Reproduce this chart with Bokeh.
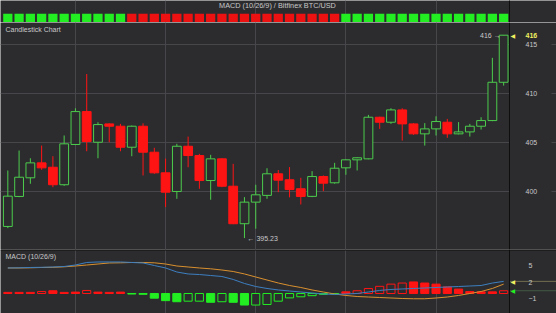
import math
from bokeh.plotting import figure
from bokeh.models import Range1d, FixedTicker, Grid, LinearAxis, Label, ColumnDataSource, Span
from bokeh.layouts import column
from bokeh.embed import file_html
from bokeh.resources import INLINE

# ---------------- data ----------------
opens = [396.42, 399.49, 401.40, 402.93, 402.48, 400.69, 404.81, 408.18, 405.04, 406.92,
         406.68, 404.53, 406.68, 404.02, 401.91, 400.00, 404.63, 403.68, 401.12, 403.34,
         400.54, 396.70, 398.91, 399.60, 401.81, 401.20, 400.28, 399.50, 401.53, 400.89,
         402.42, 403.24, 403.34, 407.60, 407.09, 408.35, 406.92, 405.90, 406.41, 407.09,
         405.90, 406.10, 406.68, 407.26, 411.18]
highs = [402.15, 404.19, 403.40, 404.70, 403.61, 405.73, 408.52, 412.03, 407.09, 406.98,
         406.92, 406.75, 406.98, 404.47, 403.37, 404.88, 405.62, 403.85, 403.75, 403.40,
         402.83, 399.42, 400.69, 402.38, 402.20, 402.50, 401.40, 402.08, 401.64, 402.93,
         403.30, 403.50, 407.84, 407.65, 408.52, 408.52, 407.00, 407.00, 407.70, 407.43,
         407.10, 406.92, 407.60, 413.68, 416.00]
lows = [396.25, 399.42, 400.79, 402.22, 400.44, 400.58, 404.75, 404.12, 403.40, 405.04,
        404.12, 403.61, 401.64, 401.81, 398.40, 399.25, 402.48, 400.28, 399.15, 400.44,
        396.65, 395.23, 396.19, 399.25, 399.93, 399.40, 398.67, 399.42, 400.03, 400.80,
        401.71, 402.15, 403.30, 406.41, 406.92, 405.21, 405.80, 404.70, 405.73, 405.49,
        405.85, 405.62, 406.34, 407.20, 410.84]
closes = [399.52, 401.46, 402.93, 402.42, 400.69, 404.88, 408.18, 405.11, 406.85, 406.68,
          404.53, 406.68, 404.02, 401.91, 399.93, 404.63, 403.68, 401.12, 403.34, 400.54,
          396.70, 398.91, 399.66, 401.81, 401.16, 400.20, 399.49, 401.53, 400.85, 402.38,
          403.24, 403.45, 407.60, 407.09, 408.35, 406.92, 405.90, 406.41, 407.16, 405.90,
          406.10, 406.68, 407.26, 411.18, 416.00]

macd_line = [4.64, 4.67, 4.73, 4.76, 4.82, 4.91, 5.18, 5.64, 5.73, 5.73,
             5.73, 5.64, 5.55, 5.09, 4.64, 3.91, 3.55, 3.45, 3.27, 3.09,
             2.55, 1.82, 1.27, 0.91, 0.64, 0.45, 0.27, 0.09, -0.09, -0.18,
             -0.09, 0.00, 0.27, 0.55, 0.73, 0.82, 0.91, 1.00, 1.09, 1.18,
             1.27, 1.36, 1.45, 1.90, 2.20]
signal_line = [4.64, 4.64, 4.67, 4.73, 4.76, 4.85, 5.00, 5.18, 5.36, 5.55,
               5.58, 5.64, 5.64, 5.58, 5.36, 5.00, 4.82, 4.64, 4.49, 4.27,
               4.00, 3.55, 3.00, 2.45, 1.91, 1.45, 1.09, 0.64, 0.27, -0.09,
               -0.36, -0.55, -0.64, -0.73, -0.82, -0.91, -0.96, -0.96, -0.82, -0.64,
               -0.36, 0.00, 0.36, 0.91, 1.70]
hist = [0.20, 0.20, 0.20, 0.35, 0.50, 0.20, 0.25, 0.55, 0.25, 0.20,
        0.25, -0.10, -0.15, -0.85, -1.30, -1.50, -1.40, -1.40, -1.60, -1.50,
        -1.60, -2.10, -2.10, -2.00, -1.40, -0.80, -0.60, -0.40, -0.15, -0.10,
        0.30, 0.50, 0.90, 1.30, 1.70, 1.90, 2.10, 1.90, 1.70, 1.20,
        0.80, 0.35, 0.30, 0.30, 0.50]
hist_filled = [1, 1, 1, 0, 1, 1, 1, 0, 1, 1,
               1, 1, 1, 1, 1, 1, 0, 0, 1, 0,
               1, 1, 0, 0, 0, 0, 0, 0, 1, 1,
               1, 0, 0, 0, 0, 0, 1, 1, 1, 1,
               1, 1, 1, 1, 0]
date_grid = [6, 14, 22, 30, 38]
price_ticks = [400, 405, 410, 415]
macd_ticks = [-1, 2, 5]
title_text = "MACD (10/26/9) / Bitfinex BTC/USD"

# ---------------- style ----------------
BG = "#2c2c2f"
GRID = "#47474b"
TXT = "#c8c8c8"
GREEN = "#4ccc4c"
RED = "#ff1414"
SQ_GREEN = "#22ee22"
SQ_RED = "#ee1111"
YEL = "#f0f060"
BLUE = "#3d7fc0"
ORANGE = "#d9902e"
AXIS = "#0e0e0e"
FONT = "Liberation Sans"
W = 556

n = len(closes)
idx = list(range(n))
X0 = -0.65          # left edge of the plot area
XEDGE = 44.52       # where the price axis sits
XEND = XEDGE + 47 / 11.27   # right edge of the canvas (axis label area)
x_range = Range1d(X0, XEND)


def base_fig(h, yr, ticks, standoff):
    f = figure(width=W, height=h, x_range=x_range, y_range=yr, output_backend="svg",
               toolbar_location=None, x_axis_location=None, y_axis_location=None,
               min_border_left=0, min_border_right=0, min_border_top=0, min_border_bottom=0,
               background_fill_color=BG, border_fill_color=BG, outline_line_color=None)
    f.center = []
    ax = LinearAxis(fixed_location=XEDGE, ticker=FixedTicker(ticks=ticks),
                    axis_line_color=AXIS, major_tick_line_color=None, minor_tick_line_color=None,
                    major_label_text_color=TXT, major_label_text_font=FONT,
                    major_label_text_font_size="7px", major_label_standoff=standoff)
    f.add_layout(ax, "right")
    f.add_layout(Grid(dimension=0, ticker=FixedTicker(ticks=date_grid), grid_line_color=GRID))
    return f


# ---------------- header (title + signal squares) ----------------
hdr = base_fig(22, Range1d(0, 22), [], 0)
hdr.add_layout(Span(location=XEDGE, dimension="height", line_color=AXIS, line_width=1))
sq_colors = [SQ_GREEN if h > 0 else SQ_RED for h in hist]
hdr.rect(x=idx, y=4.4, width=0.82, height=8.7, fill_color=sq_colors, line_color=None)
hdr.add_layout(Label(x=277, y=17, x_units="screen", text=title_text, text_align="center",
                     text_baseline="middle", text_font=FONT, text_font_size="7.3px",
                     text_color=TXT))

# ---------------- main candlestick ----------------
main = base_fig(227, Range1d(394.06, 417.3), price_ticks, 10)
main.add_layout(Grid(dimension=1, ticker=FixedTicker(ticks=price_ticks), grid_line_color=GRID,
                     cross_bounds=(X0, XEDGE)))
main.add_layout(Grid(dimension=1, ticker=FixedTicker(ticks=price_ticks), grid_line_color=GRID,
                     cross_bounds=(XEND - 0.45, XEND)))

up = [c >= o for o, c in zip(opens, closes)]
src = ColumnDataSource(dict(
    x=idx, o=opens, h=highs, l=lows, c=closes,
    top=[max(o, c) for o, c in zip(opens, closes)],
    bot=[min(o, c) for o, c in zip(opens, closes)],
    col=[GREEN if u else RED for u in up],
    fill=[BG if u else RED for u in up],
))
main.segment(x0="x", y0="l", x1="x", y1="h", line_color="col", line_width=1, source=src)
main.vbar(x="x", width=0.78, top="top", bottom="bot", fill_color="fill", line_color="col",
          line_width=1, source=src)

main.add_layout(Label(x=5, y=220, x_units="screen", y_units="screen", text="Candlestick Chart",
                      text_baseline="middle", text_font=FONT, text_font_size="7px", text_color=TXT))
lo_i = lows.index(min(lows))
hi_i = highs.index(max(highs))
main.add_layout(Label(x=lo_i, y=lows[lo_i], x_offset=3, text="\u2190 %.2f" % lows[lo_i],
                      text_baseline="middle", text_font=FONT, text_font_size="7px", text_color=TXT))
main.add_layout(Label(x=hi_i, y=highs[hi_i], x_offset=-3, text="%d \u2192" % round(highs[hi_i]),
                      text_align="right", text_baseline="middle", text_font=FONT,
                      text_font_size="7px", text_color=TXT))
main.add_layout(Label(x=XEDGE, y=closes[-1], x_offset=1, text="\u25C0", text_baseline="middle",
                      text_font="DejaVu Sans", text_font_size="6px", text_color=YEL))
main.add_layout(Label(x=XEDGE, y=closes[-1], x_offset=16, text="%d" % round(closes[-1]),
                      text_baseline="middle", text_font=FONT, text_font_size="7px",
                      text_font_style="bold", text_color=YEL))

# ---------------- MACD panel ----------------
mp = base_fig(64, Range1d(-3.64, 8.0), macd_ticks, 13)

hsrc = ColumnDataSource(dict(
    x=idx,
    top=[max(h, 0) for h in hist],
    bot=[min(h, 0) for h in hist],
    col=[RED if h > 0 else SQ_GREEN for h in hist],
    fill=[(RED if h > 0 else SQ_GREEN) if f else BG for h, f in zip(hist, hist_filled)],
))
mp.vbar(x="x", width=0.72, top="top", bottom="bot", fill_color="fill", line_color="col",
        line_width=1, source=hsrc)
mp.line(idx, signal_line, line_color=ORANGE, line_width=1)
mp.line(idx, macd_line, line_color=BLUE, line_width=1)
mp.segment(x0=[XEDGE, XEDGE], x1=[XEND, XEND], y0=[macd_line[-1], hist[-1]],
           y1=[macd_line[-1], hist[-1]], line_color=["#b8b070", "#5a8a5a"],
           line_dash="1 1", line_width=1)
mp.add_layout(Span(location=8.0, dimension="width", line_color=AXIS, line_width=2))
mp.add_layout(Label(x=5, y=57, x_units="screen", y_units="screen", text="MACD (10/26/9)",
                    text_baseline="middle", text_font=FONT, text_font_size="7px", text_color=TXT))
mp.add_layout(Label(x=XEDGE, y=macd_line[-1], x_offset=1, text="\u25C0", text_baseline="middle",
                    text_font="DejaVu Sans", text_font_size="6px", text_color=YEL))
mp.add_layout(Label(x=XEDGE, y=hist[-1], x_offset=1, text="\u25C0", text_baseline="middle",
                    text_font="DejaVu Sans", text_font_size="6px", text_color=SQ_GREEN))

layout = column(hdr, main, mp, spacing=0)
open("out.html", "w").write(file_html(layout, INLINE))
